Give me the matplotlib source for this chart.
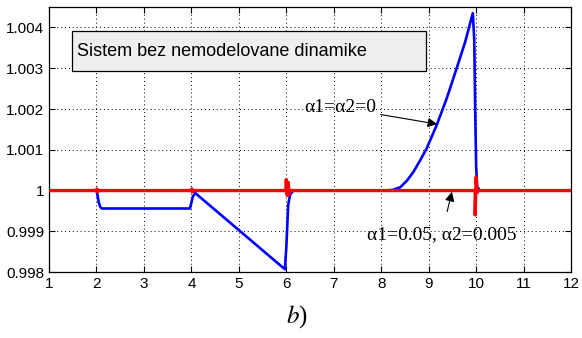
import matplotlib
matplotlib.use("Agg")
import matplotlib.pyplot as plt
from matplotlib.patches import Rectangle

# blue: alpha1 = alpha2 = 0
blue_t = [1.0, 2.0, 2.02, 2.05, 2.08, 2.11, 2.8, 3.97, 4.0, 4.03, 4.08, 4.12,
          5.97, 6.0, 6.04, 6.08, 6.15, 8.12, 8.25, 8.4, 8.54, 8.68, 8.82, 8.96,
          9.17, 9.38, 9.59, 9.77, 9.93, 9.96, 9.98, 10.0, 10.02, 10.08, 12.0]
blue_y = [1.0, 1.0, 0.9999, 0.9997, 0.9996, 0.99956, 0.99956, 0.99956, 0.9997,
          0.99985, 0.99994, 0.9999, 0.99807, 0.9986, 0.99965, 0.9999, 1.0, 1.0,
          1.00002, 1.00008, 1.00024, 1.00046, 1.00074, 1.00104, 1.00161, 1.00226,
          1.0030, 1.00365, 1.00435, 1.0037, 1.002, 1.0006, 1.0001, 1.0, 1.0]

# red: alpha1 = 0.05, alpha2 = 0.005
red_t = [1.0, 2.0, 2.01, 2.02, 2.04, 4.0, 4.01, 4.02, 4.04, 5.99, 6.0, 6.02,
         6.04, 6.06, 6.08, 9.98, 9.98, 10.0, 10.02, 10.05, 12.0]
red_y = [1.0, 1.0, 1.00004, 0.99997, 1.0, 1.0, 1.00004, 0.99997, 1.0, 1.0,
         1.00027, 0.99988, 1.0002, 0.9999, 1.0, 1.0, 0.9994, 1.00033, 0.99995,
         1.0, 1.0]

xticks = list(range(1, 13))
yticks = [0.998, 0.999, 1.0, 1.001, 1.002, 1.003, 1.004]
ytick_labels = ["0.998", "0.999", "1", "1.001", "1.002", "1.003", "1.004"]

plt.rcParams["font.family"] = ["Liberation Sans", "DejaVu Sans"]
plt.rcParams["mathtext.fontset"] = "stix"

fig = plt.figure(figsize=(5.82, 3.38), dpi=100)
ax = fig.add_axes([0.0842, 0.195, 0.897, 0.784])

ax.plot(blue_t, blue_y, color="#0000ff", lw=1.9, zorder=3)
ax.plot(red_t, red_y, color="#ff0000", lw=2.4, zorder=4)

ax.set_xlim(1, 12)
ax.set_ylim(0.998, 1.0045)
ax.set_xticks(xticks)
ax.set_yticks(yticks)
ax.set_yticklabels(ytick_labels)
ax.tick_params(direction="in", top=True, right=True, labelsize=11, length=4, width=0.8)
ax.grid(True, color="k", linestyle=(0, (1, 3)), linewidth=0.7)
for s in ax.spines.values():
    s.set_linewidth(0.9)

# legend-like box
ax.add_patch(Rectangle((0.044, 0.758), 0.678, 0.151, transform=ax.transAxes,
                       facecolor="#efefef", edgecolor="k", lw=0.9, zorder=5))
ax.text(0.054, 0.834, "Sistem bez nemodelovane dinamike", transform=ax.transAxes,
        ha="left", va="center", fontsize=13, zorder=6)

serif = ["Liberation Serif", "DejaVu Serif"]
ax.annotate("α1=α2=0", xy=(9.18, 1.00163), xytext=(7.9, 1.00203),
            ha="right", va="center", fontsize=14, family=serif,
            arrowprops=dict(arrowstyle="-|>", color="k", lw=0.8, mutation_scale=14,
                            shrinkA=1, shrinkB=0), zorder=6)
ax.annotate("α1=0.05, α2=0.005", xy=(9.49, 0.99997), xytext=(9.27, 0.99891),
            ha="center", va="center", fontsize=14, family=serif,
            arrowprops=dict(arrowstyle="-|>", color="k", lw=0.8, mutation_scale=14,
                            shrinkA=9, shrinkB=0), zorder=6)

fig.text(0.51, 0.062, r"$b$)", ha="center", va="center", fontsize=18, family=serif)

fig.savefig("out.png", dpi=100)
